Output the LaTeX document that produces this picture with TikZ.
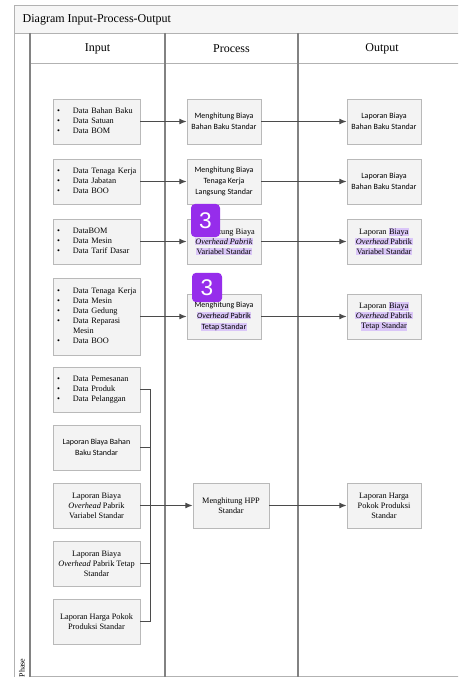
\documentclass[tikz,border=0pt]{standalone}
\usepackage{fontspec}
\setmainfont{Liberation Serif}
\newfontfamily\carlito{Carlito}
\newfontfamily\badgefont{Liberation Sans}
\usetikzlibrary{arrows.meta,shadows}
\definecolor{hlp}{RGB}{218,198,248}
\definecolor{badgecol}{RGB}{150,45,235}
\definecolor{lanegray}{RGB}{130,130,130}
\definecolor{linegray}{RGB}{75,75,75}
\definecolor{boxfill}{RGB}{243,243,243}
\newcommand{\hlt}[1]{{\setlength{\fboxsep}{0.4pt}\colorbox{hlp}{#1}}}
\newcommand{\bl}{\textbullet}
\begin{document}
\begin{tikzpicture}[x=0.75pt,y=-0.75pt,
  box/.style={draw=gray!55, fill=boxfill, line width=0.5pt, align=center, inner sep=2pt,
    drop shadow={shadow xshift=0.8pt, shadow yshift=-0.8pt, opacity=0.2, fill=gray}},
  serif/.style={font=\fontsize{6.2}{7.5}\selectfont},
  sans/.style={font=\carlito\fontsize{6}{8}\selectfont},
  inbox/.style={box, minimum width=65.25pt, minimum height=33.75pt},
  inlist/.style={box, serif, align=left, inner xsep=3pt, text width=59.25pt, minimum height=33.75pt},
  prbox/.style={box, minimum width=55.5pt, minimum height=33.75pt},
  lane/.style={draw=lanegray, line width=1.1pt},
  frame/.style={draw=gray!60, line width=0.6pt},
  conn/.style={draw=linegray, line width=0.8pt},
  arr/.style={conn, -{Latex[length=5.5pt,width=4.4pt]}},
  badge/.style={fill=badgecol, rounded corners=3pt, text=white, font=\badgefont\fontsize{17}{17}\selectfont, inner sep=0pt},
  hdr/.style={font=\fontsize{9}{10}\selectfont}
]
\useasboundingbox (0,0) rectangle (458,677);
\clip (0,0) rectangle (458,677);
% frame
\fill[white] (0,0) rectangle (458,677);
\fill[gray!7] (14,5) rectangle (470,33);
\draw[frame] (14,5) rectangle (470,690);
\draw[frame] (14,33) -- (470,33);
\draw[frame] (30,63) -- (470,63);
\draw[frame] (30,676) -- (470,676);
\draw[lane] (30,33) -- (30,677);
\draw[lane] (165,33) -- (165,677);
\draw[lane] (298,33) -- (298,677);
\node[hdr, anchor=west] (title) at (18,19.5) {Diagram Input-Process-Output};
\node[hdr] (hin) at (97.5,48.5) {Input};
\node[hdr] (hpr) at (231.5,48.5) {Process};
\node[hdr] (hout) at (382,48.5) {Output};
\node[rotate=90, anchor=east, font=\fontsize{6}{7}\selectfont] (phase) at (22,654) {Phase};

% input column
\node[inlist] (in1) at (96.5,121.5) {\begin{tabular}{@{}p{12pt}@{}l@{}}\bl & Data Bahan Baku\\ \bl & Data Satuan\\ \bl & Data BOM\end{tabular}};
\node[inlist] (in2) at (96.5,181.5) {\begin{tabular}{@{}p{12pt}@{}l@{}}\bl & Data Tenaga Kerja\\ \bl & Data Jabatan\\ \bl & Data BOO\end{tabular}};
\node[inlist] (in3) at (96.5,241.5) {\begin{tabular}{@{}p{12pt}@{}l@{}}\bl & DataBOM\\ \bl & Data Mesin\\ \bl & Data Tarif Dasar\end{tabular}};
\node[inlist, minimum height=57.75pt] (in4) at (96.5,316.5) {\begin{tabular}{@{}p{12pt}@{}l@{}}\bl & Data Tenaga Kerja\\ \bl & Data Mesin\\ \bl & Data Gedung\\ \bl & Data Reparasi\\ & Mesin\\ \bl & Data BOO\end{tabular}};
\node[inlist] (in5) at (96.5,389.5) {\begin{tabular}{@{}p{12pt}@{}l@{}}\bl & Data Pemesanan\\ \bl & Data Produk\\ \bl & Data Pelanggan\end{tabular}};
\node[inbox, sans] (in6) at (96.5,447.5) {Laporan Biaya Bahan\\Baku Standar};
\node[inbox, serif] (in7) at (96.5,505.5) {Laporan Biaya\\\textit{Overhead} Pabrik\\Variabel Standar};
\node[inbox, serif] (in8) at (96.5,563.5) {Laporan Biaya\\\textit{Overhead} Pabrik Tetap\\Standar};
\node[inbox, serif] (in9) at (96.5,621.5) {Laporan Harga Pokok\\Produksi Standar};

% process column
\node[prbox, sans] (pr1) at (224,121.5) {Menghitung Biaya\\Bahan Baku Standar};
\node[prbox, sans] (pr2) at (224,181.5) {Menghitung Biaya\\Tenaga Kerja\\Langsung Standar};
\node[prbox, serif] (pr3) at (224,241.5) {Menghitung Biaya\\\hlt{\textit{Overhead Pabrik}}\\\hlt{Variabel Standar}};
\node[prbox, sans] (pr4) at (224,316.5) {Menghitung Biaya\\\hlt{\textit{Overhead} Pabrik}\\\hlt{Tetap Standar}};
\node[prbox, serif, minimum width=57pt] (hpp) at (231,505.5) {Menghitung HPP\\Standar};

% output column
\node[prbox, sans] (out1) at (384,121.5) {Laporan Biaya\\Bahan Baku Standar};
\node[prbox, sans] (out2) at (384,181.5) {Laporan Biaya\\Bahan Baku Standar};
\node[prbox, serif] (out3) at (384,241.5) {Laporan \hlt{Biaya}\\\hlt{\textit{Overhead} Pabrik}\\\hlt{Variabel Standar}};
\node[prbox, serif] (out4) at (384,316.5) {Laporan \hlt{Biaya}\\\hlt{\textit{Overhead} Pabrik}\\\hlt{Tetap Standar}};
\node[prbox, serif] (out5) at (384,505.5) {Laporan Harga\\Pokok Produksi\\Standar};

% connectors
\draw[arr] (in1.east) -- (pr1.west);
\draw[arr] (in2.east) -- (pr2.west);
\draw[arr] (in3.east) -- (pr3.west);
\draw[arr] (in4.east) -- (pr4.west);
\draw[arr] (pr1.east) -- (out1.west);
\draw[arr] (pr2.east) -- (out2.west);
\draw[arr] (pr3.east) -- (out3.west);
\draw[arr] (pr4.east) -- (out4.west);
\coordinate (busb) at (150.5,621.5);
\draw[conn] (in5.east) -| (busb) -- (in9.east);
\draw[conn] (in6.east) -- (in6.east -| busb);
\draw[conn] (in8.east) -- (in8.east -| busb);
\draw[arr] (in7.east) -- (hpp.west);
\draw[arr] (hpp.east) -- (out5.west);

% badges
\node[badge, minimum width=21.75pt, minimum height=24.75pt] (b1) at (205.5,220.5) {3};
\node[badge, minimum width=22.5pt, minimum height=22pt] (b2) at (207,287.5) {3};
\end{tikzpicture}
\end{document}
